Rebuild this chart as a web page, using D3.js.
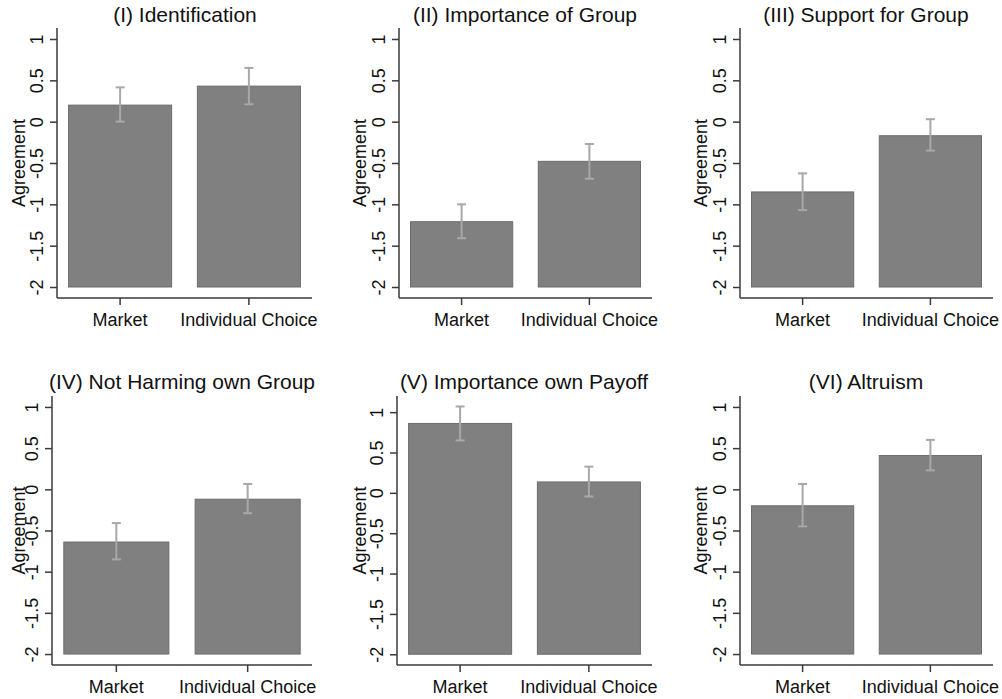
<!DOCTYPE html>
<html>
<head>
<meta charset="utf-8">
<script src="https://cdn.jsdelivr.net/npm/d3@7"></script>
<style>
  html, body { margin: 0; padding: 0; background: #fff; }
  svg { display: block; font-family: "Liberation Sans", Arial, sans-serif; }
</style>
</head>
<body>
<svg id="chart" width="1002" height="699"></svg>
<script>
// ---- data ----
const categories = ["Market", "Individual Choice"];
const panelTitles = [
  "(I) Identification",
  "(II) Importance of Group",
  "(III) Support for Group",
  "(IV) Not Harming own Group",
  "(V) Importance own Payoff",
  "(VI) Altruism"
];
const means = [
  [0.20, 0.43],
  [-1.21, -0.48],
  [-0.85, -0.17],
  [-0.64, -0.12],
  [0.86, 0.135],
  [-0.20, 0.41]
];
const ciLow = [
  [0.00, 0.21],
  [-1.41, -0.69],
  [-1.07, -0.35],
  [-0.85, -0.29],
  [0.65, -0.045],
  [-0.45, 0.23]
];
const ciHigh = [
  [0.415, 0.65],
  [-1.00, -0.27],
  [-0.625, 0.03],
  [-0.41, 0.065],
  [1.07, 0.325],
  [0.065, 0.60]
];
const yTicks = [-2, -1.5, -1, -0.5, 0, 0.5, 1];
const yTickLabels = ["-2", "-1.5", "-1", "-0.5", "0", "0.5", "1"];
const yAxisTitle = "Agreement";
const barBase = -2;

// ---- layout (positions only) ----
const layout = [
  { ax: 57,  rx: 312, top: 28,  bottom: 298, dom: [-2.133, 1.133], titleY: 22,  catY: 326 },
  { ax: 399, rx: 652, top: 28,  bottom: 298, dom: [-2.133, 1.133], titleY: 22,  catY: 326 },
  { ax: 740, rx: 993, top: 28,  bottom: 298, dom: [-2.133, 1.133], titleY: 22,  catY: 326 },
  { ax: 52,  rx: 312, top: 396, bottom: 665, dom: [-2.133, 1.133], titleY: 389, catY: 693 },
  { ax: 397, rx: 652, top: 396, bottom: 665, dom: [-2.133, 1.2],   titleY: 389, catY: 693 },
  { ax: 740, rx: 993, top: 396, bottom: 665, dom: [-2.133, 1.133], titleY: 389, catY: 693 }
];
const titleX = [185, 525, 866, 182, 524, 866];
const ytitleX = [25, 366, 707, 25, 366, 707];

const svg = d3.select("#chart");
const axisColor = "#3a3a3a";
const textColor = "#111";

panelTitles.forEach((title, i) => {
  const L = layout[i];
  const g = svg.append("g");
  const y = d3.scaleLinear().domain(L.dom).range([L.bottom, L.top]);
  const x = d3.scaleBand().domain(categories).range([L.ax, L.rx])
    .paddingInner(0.2).paddingOuter(0.09);

  // bars
  g.selectAll("rect.bar").data(categories).enter().append("rect")
    .attr("x", d => x(d))
    .attr("width", x.bandwidth())
    .attr("y", (d, j) => y(means[i][j]))
    .attr("height", (d, j) => y(barBase) - y(means[i][j]))
    .attr("fill", "#808080")
    .attr("stroke", "#6c6c6c")
    .attr("stroke-width", 1);

  // error bars
  const capW = 9;
  categories.forEach((c, j) => {
    const cx = x(c) + x.bandwidth() / 2;
    const eg = g.append("g").attr("stroke", "#a8a8a8").attr("stroke-width", 2).attr("fill", "none");
    eg.append("line").attr("x1", cx).attr("x2", cx).attr("y1", y(ciLow[i][j])).attr("y2", y(ciHigh[i][j]));
    eg.append("line").attr("x1", cx - capW / 2).attr("x2", cx + capW / 2).attr("y1", y(ciLow[i][j])).attr("y2", y(ciLow[i][j]));
    eg.append("line").attr("x1", cx - capW / 2).attr("x2", cx + capW / 2).attr("y1", y(ciHigh[i][j])).attr("y2", y(ciHigh[i][j]));
  });

  // y axis
  const yAxis = d3.axisLeft(y).tickValues(yTicks)
    .tickFormat((d, k) => yTickLabels[k]).tickSize(7).tickPadding(0);
  const ya = g.append("g").attr("transform", `translate(${L.ax},0)`).call(yAxis);
  ya.select(".domain").attr("stroke", axisColor).attr("stroke-width", 1.5)
    .attr("d", `M0,${L.top}V${L.bottom}`);
  ya.selectAll(".tick line").attr("stroke", axisColor).attr("stroke-width", 1.5);
  ya.selectAll(".tick text")
    .attr("x", 0).attr("y", 0).attr("dy", 0)
    .attr("transform", "translate(-14,0) rotate(-90)")
    .attr("text-anchor", "middle")
    .attr("font-size", 18)
    .attr("font-family", "Liberation Sans, Arial, sans-serif")
    .attr("fill", textColor);

  // x axis
  const xAxis = d3.axisBottom(x).tickSize(7).tickFormat(() => "");
  const xa = g.append("g").attr("transform", `translate(0,${L.bottom})`).call(xAxis);
  xa.select(".domain").attr("stroke", axisColor).attr("stroke-width", 1.5)
    .attr("d", `M${L.ax},0H${L.rx}`);
  xa.selectAll(".tick line").attr("stroke", axisColor).attr("stroke-width", 1.5);

  // category labels
  g.selectAll("text.cat").data(categories).enter().append("text")
    .attr("x", d => x(d) + x.bandwidth() / 2)
    .attr("y", L.catY)
    .attr("text-anchor", "middle")
    .attr("font-size", 18)
    .attr("fill", textColor)
    .text(d => d);

  // y title
  g.append("text")
    .attr("transform", `translate(${ytitleX[i]},${(L.top + L.bottom) / 2}) rotate(-90)`)
    .attr("text-anchor", "middle")
    .attr("font-size", 18)
    .attr("fill", textColor)
    .text(yAxisTitle);

  // panel title
  g.append("text")
    .attr("x", titleX[i])
    .attr("y", L.titleY)
    .attr("text-anchor", "middle")
    .attr("font-size", 21)
    .attr("fill", textColor)
    .text(title);
});
</script>
</body>
</html>
